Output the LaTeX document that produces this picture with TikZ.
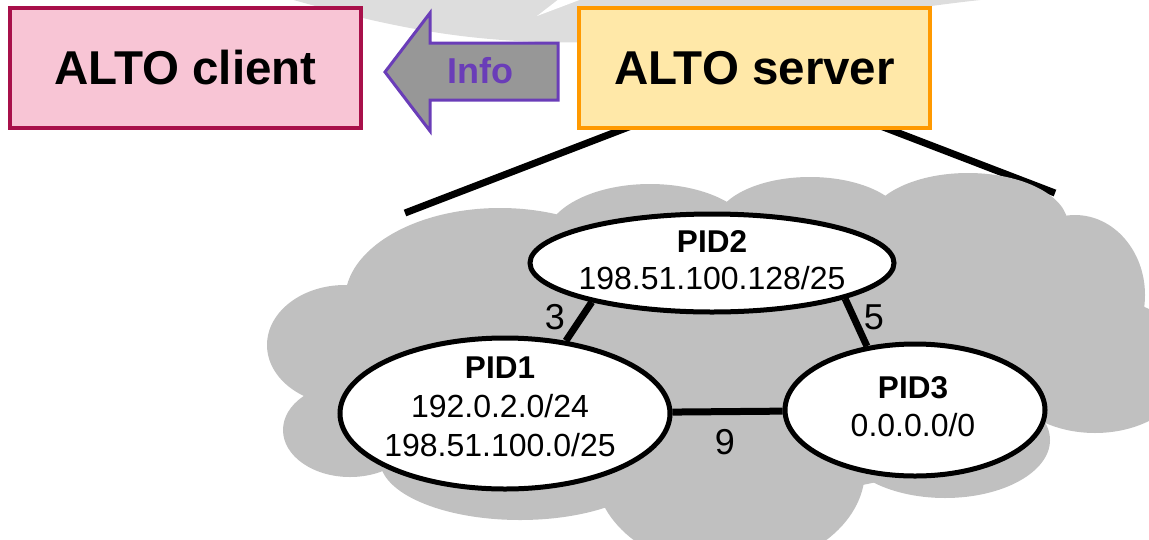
\documentclass[tikz,border=0pt]{standalone}
\usepackage{fontspec}
\setmainfont{Liberation Sans}
\usetikzlibrary{shapes.geometric,calc}
\definecolor{clientfill}{HTML}{F8C5D5}
\definecolor{clientline}{HTML}{A8104A}
\definecolor{serverfill}{HTML}{FFE8A8}
\definecolor{serverline}{HTML}{FF9900}
\definecolor{arrowfill}{HTML}{979797}
\definecolor{arrowline}{HTML}{6A3DB8}
\definecolor{cloudgray}{HTML}{C0C0C0}
\definecolor{topgray}{HTML}{DDDDDD}
\pgfdeclarelayer{background}
\pgfsetlayers{background,main}
\begin{document}
\begin{tikzpicture}[x=1pt,y=-1pt,
  altobox/.style={draw, line width=3.5pt, minimum width=351pt, minimum height=120pt, inner sep=0pt, font=\fontsize{47.5}{56}\selectfont\bfseries},
  pid/.style={draw, fill=white, ellipse, line width=5pt, inner sep=0pt},
  pidtitle/.style={anchor=base, font=\fontsize{31.5}{36}\selectfont\bfseries, inner sep=0pt},
  pidaddr/.style={anchor=base, font=\fontsize{32}{36}\selectfont, inner sep=0pt},
  cost/.style={anchor=base, font=\fontsize{36}{40}\selectfont, inner sep=0pt},
  pidlink/.style={line width=7pt},
  zoomline/.style={line width=7pt},
  lobe/.style={fill=cloudgray},
]
\useasboundingbox (0,0) rectangle (1149,539);

% cloud
\fill[lobe] (500,300) ellipse [x radius=155pt, y radius=92pt];
\fill[lobe] (650,240) ellipse [x radius=105pt, y radius=56pt];
\fill[lobe] (810,225) ellipse [x radius=95pt, y radius=48pt];
\fill[lobe] (968,225) ellipse [x radius=100pt, y radius=52pt];
\fill[lobe] (1075,295) ellipse [x radius=70pt, y radius=80pt];
\fill[lobe] (1095,365) ellipse [x radius=95pt, y radius=68pt];
\fill[lobe] (1000,320) ellipse [x radius=90pt, y radius=90pt];
\fill[lobe] (945,440) ellipse [x radius=105pt, y radius=58pt];
\fill[lobe] (730,470) ellipse [x radius=135pt, y radius=100pt];
\fill[lobe] (520,460) ellipse [x radius=140pt, y radius=60pt];
\fill[lobe] (350,430) ellipse [x radius=67pt, y radius=47pt];
\fill[lobe] (345,345) ellipse [x radius=78pt, y radius=60pt];
\fill[lobe] (700,360) ellipse [x radius=360pt, y radius=140pt];

% boxes
\node[altobox, fill=clientfill, draw=clientline] (cli) at (185.5,68) {ALTO client};
\node[altobox, fill=serverfill, draw=serverline] (srv) at (754.5,68) {ALTO server};

% info arrow
\draw[draw=arrowline, fill=arrowfill, line width=3pt, line join=miter]
  (385,72) -- (430,13) -- (430,43) -- (558,43) -- (558,100) -- (430,100) -- (430,131) -- cycle;
\node[font=\fontsize{36}{42}\selectfont\bfseries, text=arrowline, anchor=base, inner sep=0pt] (info) at (480.5,83) {Info};

% PIDs
\node[pid, minimum width=330pt, minimum height=151pt] (p1) at (505,413.5) {};
\node[pid, minimum width=364pt, minimum height=98pt] (p2) at (712,263) {};
\node[pid, minimum width=260pt, minimum height=132pt] (p3) at (915,410) {};

\draw[pidlink] (p1.50) -- (p2.198);
\draw[pidlink] (p2.345) -- (p3.127.6);
\draw[pidlink] (p1) -- (p3);

\node[pidtitle] (t1) at (500,378) {PID1};
\node[pidaddr] (a1a) at (500,417) {192.0.2.0/24};
\node[pidaddr] (a1b) at (500,456) {198.51.100.0/25};
\node[pidtitle] (t2) at (712,252) {PID2};
\node[pidaddr] (a2) at (712,289) {198.51.100.128/25};
\node[pidtitle] (t3) at (913,398) {PID3};
\node[pidaddr] (a3) at (913,436) {0.0.0.0/0};
\node[cost] (c3) at (555,329) {3};
\node[cost] (c5) at (874,329) {5};
\node[cost] (c9) at (725,454) {9};

\begin{pgfonlayer}{background}
\fill[topgray] (290,-1) .. controls (400,30) and (480,45) .. (600,42) .. controls (750,38) and (880,10) .. (990,-1) -- cycle;
\fill[white] (537,16) -- (559,-1) -- (582,-1) -- cycle;
\coordinate (zl) at (405,213);
\coordinate (zr) at (1055,193);
\coordinate (sl) at ($(srv.south west)!0.125!(srv.south east)$);
\coordinate (sr) at ($(srv.south west)!0.883!(srv.south east)$);
\draw[zoomline] (zl) -- ($(zl)!1.04!(sl)$);
\draw[zoomline] (zr) -- ($(zr)!1.05!(sr)$);
\end{pgfonlayer}
\end{tikzpicture}
\end{document}
